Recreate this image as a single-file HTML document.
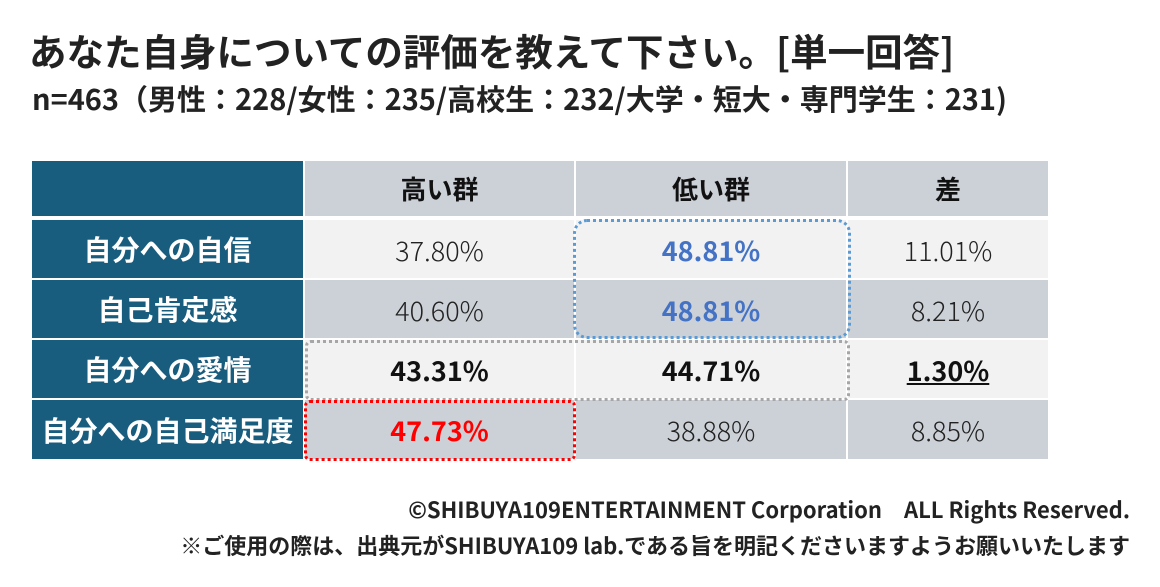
<!DOCTYPE html>
<html><head><meta charset="utf-8"><style>
body{margin:0;width:1160px;height:587px;background:#fff;font-family:"Noto Sans CJK JP",sans-serif;position:relative;overflow:hidden}
.a{position:absolute;line-height:1}
.c{position:absolute;display:flex;align-items:center;justify-content:center;font-size:27px;color:#222;line-height:1;font-weight:300}
.n{background:#195d7e;color:#fff;font-weight:bold;font-size:28px}
.h{background:#ccd1d7;font-weight:bold;color:#111;font-size:26px}
.l{background:#f2f2f2}
.d{background:#ccd1d7}
.b{font-weight:bold}
</style></head><body>
<div class="a" style="left:29px;top:31px;font-size:37.5px;font-weight:bold;color:#222;white-space:nowrap">あなた自身についての評価を教えて下さい。[単一回答]</div>
<div class="a" style="left:32px;top:84px;font-size:29px;font-weight:bold;color:#222;white-space:nowrap">n=463（男性：228/女性：235/高校生：232/大学・短大・専門学生：231)</div>

<div class="c n" style="left:32px;top:161px;width:271px;height:55px"></div>
<div class="c h" style="left:305px;top:161px;width:269px;height:55px">高い群</div>
<div class="c h" style="left:576px;top:161px;width:270px;height:55px">低い群</div>
<div class="c h" style="left:848px;top:161px;width:200px;height:55px">差</div>

<div class="c n" style="left:32px;top:220px;width:271px;height:58px">自分への自信</div>
<div class="c l" style="left:305px;top:220px;width:269px;height:58px">37.80%</div>
<div class="c l b" style="left:576px;top:220px;width:270px;height:58px;color:#4472c4">48.81%</div>
<div class="c l" style="left:848px;top:220px;width:200px;height:58px">11.01%</div>

<div class="c n" style="left:32px;top:280px;width:271px;height:58px">自己肯定感</div>
<div class="c d" style="left:305px;top:280px;width:269px;height:58px">40.60%</div>
<div class="c d b" style="left:576px;top:280px;width:270px;height:58px;color:#4472c4">48.81%</div>
<div class="c d" style="left:848px;top:280px;width:200px;height:58px">8.21%</div>

<div class="c n" style="left:32px;top:340px;width:271px;height:58px">自分への愛情</div>
<div class="c l b" style="left:305px;top:340px;width:269px;height:58px;color:#111">43.31%</div>
<div class="c l b" style="left:576px;top:340px;width:270px;height:58px;color:#111">44.71%</div>
<div class="c l b" style="left:848px;top:340px;width:200px;height:58px;color:#111;text-decoration:underline">1.30%</div>

<div class="c n" style="left:32px;top:400px;width:271px;height:59px">自分への自己満足度</div>
<div class="c d b" style="left:305px;top:400px;width:269px;height:59px;color:#f00">47.73%</div>
<div class="c d" style="left:576px;top:400px;width:270px;height:59px">38.88%</div>
<div class="c d" style="left:848px;top:400px;width:200px;height:59px">8.85%</div>

<div class="a" style="left:573px;top:219px;width:272px;height:114px;border:3px dotted #5b9bd5;border-radius:14px"></div>
<div class="a" style="left:305px;top:340px;width:539px;height:55px;border:3px dotted #a6a6a6;border-radius:6px"></div>
<div class="a" style="left:304px;top:400px;width:266px;height:55px;border:3px dotted #f00;border-radius:6px"></div>

<div class="a" style="right:30px;top:498px;font-size:22px;font-weight:bold;color:#222;white-space:nowrap">©SHIBUYA109ENTERTAINMENT Corporation　ALL Rights Reserved.</div>
<div class="a" style="right:30px;top:534px;font-size:22px;font-weight:bold;color:#222;white-space:nowrap">※ご使用の際は、出典元がSHIBUYA109 lab.である旨を明記くださいますようお願いいたします</div>
</body></html>
